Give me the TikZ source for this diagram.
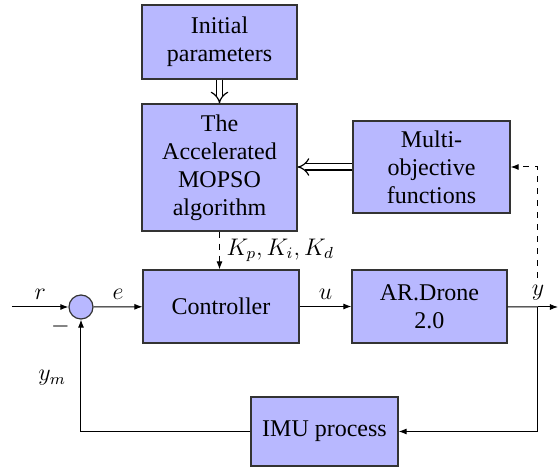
\documentclass[tikz,border=0pt]{standalone}
\usepackage{fontspec}
\setmainfont{Liberation Serif}
\usetikzlibrary{arrows.meta}

\begin{document}
\begin{tikzpicture}[x=0.5pt,y=-0.5pt,
    font=\fontsize{12}{14}\selectfont,
    block/.style={draw=black!80,line width=0.6pt,fill=blue!28,align=center,inner sep=1pt},
    sumnode/.style={circle,draw=black!80,line width=0.6pt,fill=blue!28,minimum size=12pt,inner sep=0pt},
    sig/.style={line width=0.5pt,-{Latex[length=4pt,width=3pt]}},
    dbl/.style={line width=0.6pt,double,double distance=2.5pt,-{Implies}}]
  \useasboundingbox (0,0) rectangle (559,470);

  % blocks
  \node[block,minimum width=77.5pt,minimum height=37pt] (init) at (219.5,42) {Initial\\parameters};
  \node[block,minimum width=77.5pt,minimum height=63.5pt] (mopso) at (219.5,167.5) {The\\Accelerated\\MOPSO\\algorithm};
  \node[block,minimum width=78.5pt,minimum height=46pt] (multi) at (431.5,167) {Multi-\\objective\\functions};
  \node[block,minimum width=78pt,minimum height=36.5pt] (ctrl) at (221,306.5) {Controller};
  \node[block,minimum width=77.5pt,minimum height=36.5pt] (drone) at (429.5,306.5) {AR.Drone\\2.0};
  \node[block,minimum width=73.5pt,minimum height=34.5pt] (imu) at (324.5,431.5) {IMU process};
  \node[sumnode] (sum) at (81,307) {};

  \coordinate (in) at (12,307);
  \coordinate (split) at (538,307);
  \coordinate (out) at (558,307);

  % main loop
  \draw[sig] (in) -- node[above] {$r$} (sum);
  \draw[sig] (sum) -- node[above] {$e$} (ctrl);
  \draw[sig] (ctrl) -- node[above] {$u$} (drone);
  \draw[line width=0.5pt] (drone) -- (split);
  \draw[sig] (split) -- (out);
  \node[above] (ylab) at (split) {$y$};
  \node[below left,inner sep=1pt] (minus) at (sum.south west) {$-$};
  \draw[sig] (split) |- (imu.east);
  \draw[sig] (imu.west) -| node[left,pos=0.74,xshift=-4pt] {$y_m$} (sum.south);

  % tuning
  \draw[dbl] (init) -- (mopso);
  \draw[dbl] (multi.west) -- (multi.west -| mopso.east);
  \draw[sig,dashed] (mopso.south) -- node[right] {$K_p, K_i, K_d$} (mopso.south |- ctrl.north);
  \draw[sig,dashed] (ylab.north) |- (multi.east);
\end{tikzpicture}
\end{document}
